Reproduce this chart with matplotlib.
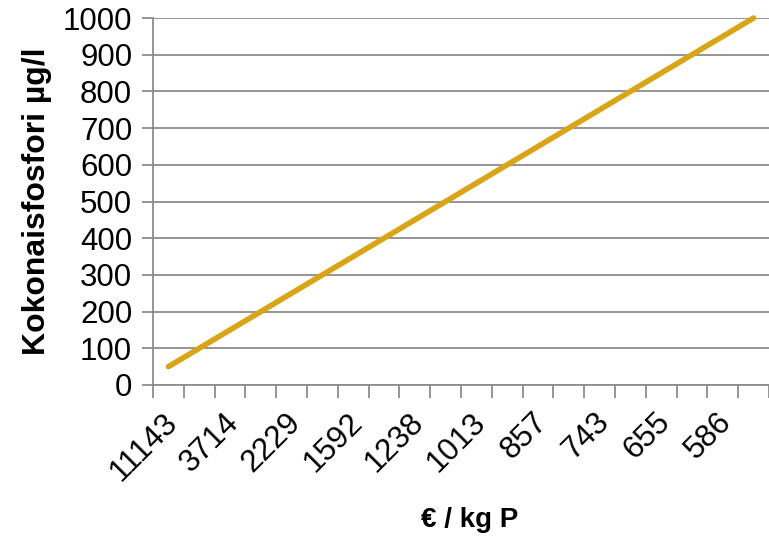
import matplotlib
matplotlib.use("Agg")
import matplotlib.pyplot as plt
import matplotlib.transforms as mtransforms
import numpy as np

# Total phosphorus (µg/l) for each of the 20 categories
phosphorus = [50, 100, 150, 200, 250, 300, 350, 400, 450, 500,
              550, 600, 650, 700, 750, 800, 850, 900, 950, 1000]
# Cost labels shown (every other category)
cost_labels = ["11143", "3714", "2229", "1592", "1238",
               "1013", "857", "743", "655", "586"]
y_ticks = [0, 100, 200, 300, 400, 500, 600, 700, 800, 900, 1000]

plt.rcParams['font.family'] = ['Liberation Sans', 'DejaVu Sans']

fig = plt.figure(figsize=(7.69, 5.37), dpi=100)
ax = fig.add_axes([153/769, (537-385)/537, (769-153)/769, (385-18)/537])

n = len(phosphorus)
xpos = np.arange(n) + 0.5
ax.plot(xpos, phosphorus, color='#D9A515', lw=4.0, solid_capstyle='round', zorder=3, clip_on=False)

ax.set_xlim(0, n)
ax.set_ylim(0, 1000)
ax.set_yticks(y_ticks)
ax.set_yticklabels([str(v) for v in y_ticks], fontsize=22.5)
ax.yaxis.grid(True, color='#8c8c8c', lw=1.3)
ax.set_axisbelow(True)

# category boundary ticks
ax.set_xticks(np.arange(0, n + 1))
ax.set_xticklabels([])
ax.tick_params(axis='x', which='major', length=9, width=1.3, color='#8c8c8c')
ax.tick_params(axis='y', which='major', length=8, width=1.3, color='#8c8c8c', pad=7)

# labels at centers of every other category
ax.set_xticks(xpos[::2], minor=True)
ax.set_xticklabels(cost_labels, minor=True, rotation=45, ha='right', va='top',
                   rotation_mode='anchor', fontsize=22.5)
ax.tick_params(axis='x', which='minor', length=0, pad=16)
offset = mtransforms.ScaledTranslation(-6/100, 0, fig.dpi_scale_trans)
for lbl in ax.get_xticklabels(minor=True):
    lbl.set_transform(lbl.get_transform() + offset)

for s in ['top', 'right']:
    ax.spines[s].set_visible(False)
for s in ['left', 'bottom']:
    ax.spines[s].set_color('#8c8c8c')
    ax.spines[s].set_linewidth(1.3)

ax.set_ylabel('Kokonaisfosfori µg/l', fontsize=23, fontweight='bold', labelpad=8)
fig.text(470/769, 1 - 520/537, '€ / kg P', fontsize=20, fontweight='bold', ha='center', va='center')

fig.savefig('out.png', dpi=100)
